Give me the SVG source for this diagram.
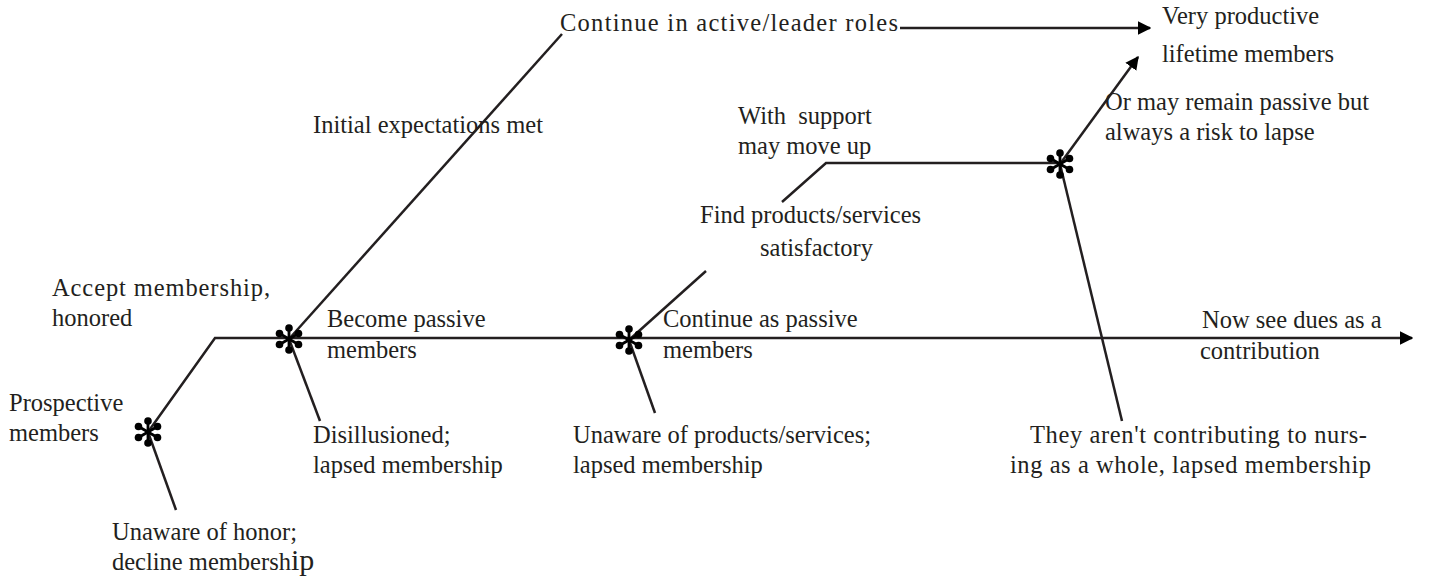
<svg xmlns="http://www.w3.org/2000/svg" xmlns:xlink="http://www.w3.org/1999/xlink" width="1429" height="582" viewBox="0 0 1429 582">
<style>
text{font-family:"Liberation Serif","Times New Roman",serif;font-size:24.5px;fill:#231f20}
.ln{stroke:#231f20;stroke-width:2.5;fill:none}
.pt{stroke:#000;stroke-width:2.8;stroke-linecap:round}
</style>
<defs>
<marker id="ah" viewBox="0 0 10 10" refX="9" refY="5" markerWidth="5.4" markerHeight="6.2" markerUnits="strokeWidth" orient="auto">
<path d="M0,0 L10,5 L0,10 z" fill="#000"/>
</marker>
<g id="star">
<line class="pt" x1="0" y1="0" x2="0" y2="-11"/>
<line class="pt" x1="0" y1="0" x2="0" y2="11"/>
<line class="pt" x1="0" y1="0" x2="9.5" y2="-5.5"/>
<line class="pt" x1="0" y1="0" x2="-9.5" y2="-5.5"/>
<line class="pt" x1="0" y1="0" x2="9.5" y2="5.5"/>
<line class="pt" x1="0" y1="0" x2="-9.5" y2="5.5"/>
<circle cx="0" cy="-11" r="3.8"/>
<circle cx="0" cy="11" r="3.8"/>
<circle cx="9.5" cy="-5.5" r="3.8"/>
<circle cx="-9.5" cy="-5.5" r="3.8"/>
<circle cx="9.5" cy="5.5" r="3.8"/>
<circle cx="-9.5" cy="5.5" r="3.8"/>
</g>
</defs>
<g id="connectors">
<polyline class="ln" points="148,432 215,338 1412,338" marker-end="url(#ah)"/>
<line class="ln" x1="148" y1="432" x2="176" y2="510"/>
<line class="ln" x1="289" y1="339" x2="562" y2="34"/>
<line class="ln" x1="289" y1="339" x2="320" y2="421"/>
<line class="ln" x1="900" y1="28" x2="1150" y2="28" marker-end="url(#ah)"/>
<line class="ln" x1="629" y1="340" x2="706" y2="271"/>
<polyline class="ln" points="782,202 826,163 1060,163"/>
<line class="ln" x1="629" y1="340" x2="655" y2="413"/>
<line class="ln" x1="1060" y1="164" x2="1138" y2="57" marker-end="url(#ah)"/>
<line class="ln" x1="1060" y1="164" x2="1122" y2="421"/>
</g>
<g id="n1"><use xlink:href="#star" x="148" y="432"/></g>
<g id="n2"><use xlink:href="#star" x="289" y="339"/></g>
<g id="n3"><use xlink:href="#star" x="629" y="340"/></g>
<g id="n4"><use xlink:href="#star" x="1060" y="164"/></g>
<g id="labels">
<text x="9" y="411">Prospective</text>
<text x="9" y="441">members</text>
<text x="52" y="296" textLength="218" lengthAdjust="spacing">Accept membership,</text>
<text x="52" y="326">honored</text>
<text x="112" y="540">Unaware of honor;</text>
<text x="112" y="570">decline membersh<tspan font-size="30">ip</tspan></text>
<text x="313" y="133">Initial expectations met</text>
<text x="560" y="31" textLength="338" lengthAdjust="spacing">Continue in active/leader roles</text>
<text x="1162" y="24">Very productive</text>
<text x="1162" y="62">lifetime members</text>
<text x="738" y="124" xml:space="preserve">With  support</text>
<text x="738" y="154">may move up</text>
<text x="1105" y="110">Or may remain passive but</text>
<text x="1105" y="140">always a risk to lapse</text>
<text x="700" y="223">Find products/services</text>
<text x="760" y="256">satisfactory</text>
<text x="327" y="327">Become passive</text>
<text x="327" y="358">members</text>
<text x="663" y="327">Continue as passive</text>
<text x="663" y="358">members</text>
<text x="1202" y="328">Now see dues as a</text>
<text x="1200" y="359">contribution</text>
<text x="313" y="443">Disillusioned;</text>
<text x="313" y="473">lapsed membership</text>
<text x="573" y="443">Unaware of products/services;</text>
<text x="573" y="473">lapsed membership</text>
<text x="1030" y="443" textLength="337" lengthAdjust="spacing">They aren't contributing to nurs-</text>
<text x="1010" y="473" textLength="361" lengthAdjust="spacing">ing as a whole, lapsed membership</text>
</g>
</svg>
